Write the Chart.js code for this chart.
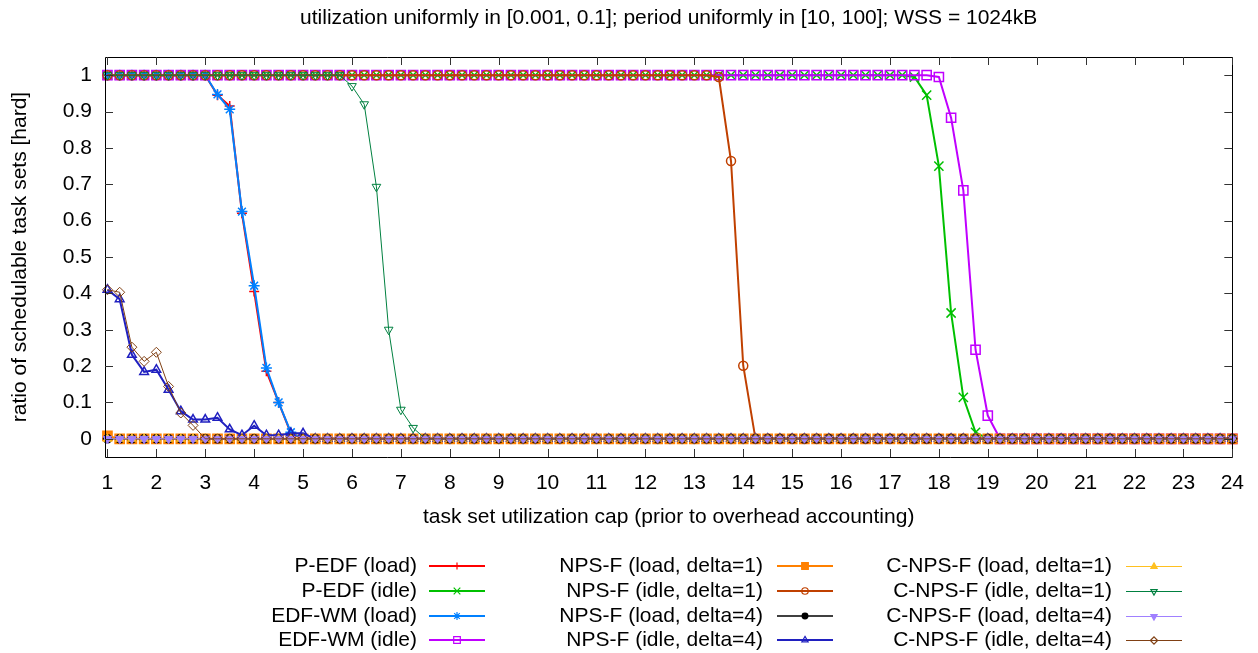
<!DOCTYPE html>
<html>
<head>
<meta charset="utf-8">
<script src="https://cdn.jsdelivr.net/npm/chart.js@4.4.1/dist/chart.umd.min.js"></script>
<style>
  html, body { margin: 0; padding: 0; background: #fff; }
  #chart { display: block; }
</style>
</head>
<body>
<canvas id="chart" width="1258" height="653"></canvas>
<script>
// task set utilization cap, step 0.25
const utilCap = [
  1, 1.25, 1.5, 1.75, 2, 2.25, 2.5, 2.75, 3, 3.25, 3.5, 3.75, 4, 4.25, 4.5, 4.75,
  5, 5.25, 5.5, 5.75, 6, 6.25, 6.5, 6.75, 7, 7.25, 7.5, 7.75, 8, 8.25, 8.5, 8.75,
  9, 9.25, 9.5, 9.75, 10, 10.25, 10.5, 10.75, 11, 11.25, 11.5, 11.75, 12, 12.25, 12.5, 12.75,
  13, 13.25, 13.5, 13.75, 14, 14.25, 14.5, 14.75, 15, 15.25, 15.5, 15.75, 16, 16.25, 16.5, 16.75,
  17, 17.25, 17.5, 17.75, 18, 18.25, 18.5, 18.75, 19, 19.25, 19.5, 19.75, 20, 20.25, 20.5, 20.75,
  21, 21.25, 21.5, 21.75, 22, 22.25, 22.5, 22.75, 23, 23.25, 23.5, 23.75, 24
];

const pEdfLoad = [
  1, 1, 1, 1, 1, 1, 1, 1, 1, 0.945, 0.915, 0.62, 0.405, 0.186, 0.1, 0.015,
  0, 0, 0, 0, 0, 0, 0, 0, 0, 0, 0, 0, 0, 0, 0, 0,
  0, 0, 0, 0, 0, 0, 0, 0, 0, 0, 0, 0, 0, 0, 0, 0,
  0, 0, 0, 0, 0, 0, 0, 0, 0, 0, 0, 0, 0, 0, 0, 0,
  0, 0, 0, 0, 0, 0, 0, 0, 0, 0, 0, 0, 0, 0, 0, 0,
  0, 0, 0, 0, 0, 0, 0, 0, 0, 0, 0, 0, 0
];
const pEdfIdle = [
  1, 1, 1, 1, 1, 1, 1, 1, 1, 1, 1, 1, 1, 1, 1, 1,
  1, 1, 1, 1, 1, 1, 1, 1, 1, 1, 1, 1, 1, 1, 1, 1,
  1, 1, 1, 1, 1, 1, 1, 1, 1, 1, 1, 1, 1, 1, 1, 1,
  1, 1, 1, 1, 1, 1, 1, 1, 1, 1, 1, 1, 1, 1, 1, 1,
  1, 1, 0.995, 0.945, 0.75, 0.346, 0.114, 0.018, 0, 0, 0, 0, 0, 0, 0, 0,
  0, 0, 0, 0, 0, 0, 0, 0, 0, 0, 0, 0, 0
];
const edfWmLoad = [
  1, 1, 1, 1, 1, 1, 1, 1, 1, 0.947, 0.906, 0.625, 0.421, 0.195, 0.1, 0.018,
  0, 0, 0, 0, 0, 0, 0, 0, 0, 0, 0, 0, 0, 0, 0, 0,
  0, 0, 0, 0, 0, 0, 0, 0, 0, 0, 0, 0, 0, 0, 0, 0,
  0, 0, 0, 0, 0, 0, 0, 0, 0, 0, 0, 0, 0, 0, 0, 0,
  0, 0, 0, 0, 0, 0, 0, 0, 0, 0, 0, 0, 0, 0, 0, 0,
  0, 0, 0, 0, 0, 0, 0, 0, 0, 0, 0, 0, 0
];
const edfWmIdle = [
  1, 1, 1, 1, 1, 1, 1, 1, 1, 1, 1, 1, 1, 1, 1, 1,
  1, 1, 1, 1, 1, 1, 1, 1, 1, 1, 1, 1, 1, 1, 1, 1,
  1, 1, 1, 1, 1, 1, 1, 1, 1, 1, 1, 1, 1, 1, 1, 1,
  1, 1, 1, 1, 1, 1, 1, 1, 1, 1, 1, 1, 1, 1, 1, 1,
  1, 1, 1, 1, 0.995, 0.883, 0.683, 0.245, 0.064, 0, 0, 0, 0, 0, 0, 0,
  0, 0, 0, 0, 0, 0, 0, 0, 0, 0, 0, 0, 0
];
const npsfLoad1 = [
  0.008, 0, 0, 0, 0, 0, 0, 0, 0, 0, 0, 0, 0, 0, 0, 0,
  0, 0, 0, 0, 0, 0, 0, 0, 0, 0, 0, 0, 0, 0, 0, 0,
  0, 0, 0, 0, 0, 0, 0, 0, 0, 0, 0, 0, 0, 0, 0, 0,
  0, 0, 0, 0, 0, 0, 0, 0, 0, 0, 0, 0, 0, 0, 0, 0,
  0, 0, 0, 0, 0, 0, 0, 0, 0, 0, 0, 0, 0, 0, 0, 0,
  0, 0, 0, 0, 0, 0, 0, 0, 0, 0, 0, 0, 0
];
const npsfIdle1 = [
  1, 1, 1, 1, 1, 1, 1, 1, 1, 1, 1, 1, 1, 1, 1, 1,
  1, 1, 1, 1, 1, 1, 1, 1, 1, 1, 1, 1, 1, 1, 1, 1,
  1, 1, 1, 1, 1, 1, 1, 1, 1, 1, 1, 1, 1, 1, 1, 1,
  1, 1, 0.995, 0.764, 0.201, 0, 0, 0, 0, 0, 0, 0, 0, 0, 0, 0,
  0, 0, 0, 0, 0, 0, 0, 0, 0, 0, 0, 0, 0, 0, 0, 0,
  0, 0, 0, 0, 0, 0, 0, 0, 0, 0, 0, 0, 0
];
const npsfLoad4 = [
  0, 0, 0, 0, 0, 0, 0, 0, 0, 0, 0, 0, 0, 0, 0, 0,
  0, 0, 0, 0, 0, 0, 0, 0, 0, 0, 0, 0, 0, 0, 0, 0,
  0, 0, 0, 0, 0, 0, 0, 0, 0, 0, 0, 0, 0, 0, 0, 0,
  0, 0, 0, 0, 0, 0, 0, 0, 0, 0, 0, 0, 0, 0, 0, 0,
  0, 0, 0, 0, 0, 0, 0, 0, 0, 0, 0, 0, 0, 0, 0, 0,
  0, 0, 0, 0, 0, 0, 0, 0, 0, 0, 0, 0, 0
];
const npsfIdle4 = [
  0.41, 0.384, 0.231, 0.184, 0.19, 0.135, 0.076, 0.053, 0.053, 0.058, 0.026, 0.01, 0.036, 0.01, 0.01, 0.015,
  0.015, 0, 0, 0, 0, 0, 0, 0, 0, 0, 0, 0, 0, 0, 0, 0,
  0, 0, 0, 0, 0, 0, 0, 0, 0, 0, 0, 0, 0, 0, 0, 0,
  0, 0, 0, 0, 0, 0, 0, 0, 0, 0, 0, 0, 0, 0, 0, 0,
  0, 0, 0, 0, 0, 0, 0, 0, 0, 0, 0, 0, 0, 0, 0, 0,
  0, 0, 0, 0, 0, 0, 0, 0, 0, 0, 0, 0, 0
];
const cnpsfLoad1 = [
  0, 0, 0, 0, 0, 0, 0, 0, 0, 0, 0, 0, 0, 0, 0, 0,
  0, 0, 0, 0, 0, 0, 0, 0, 0, 0, 0, 0, 0, 0, 0, 0,
  0, 0, 0, 0, 0, 0, 0, 0, 0, 0, 0, 0, 0, 0, 0, 0,
  0, 0, 0, 0, 0, 0, 0, 0, 0, 0, 0, 0, 0, 0, 0, 0,
  0, 0, 0, 0, 0, 0, 0, 0, 0, 0, 0, 0, 0, 0, 0, 0,
  0, 0, 0, 0, 0, 0, 0, 0, 0, 0, 0, 0, 0
];
const cnpsfIdle1 = [
  1, 1, 1, 1, 1, 1, 1, 1, 1, 1, 1, 1, 1, 1, 1, 1,
  1, 1, 1, 1, 0.97, 0.92, 0.693, 0.3, 0.08, 0.03, 0, 0, 0, 0, 0, 0,
  0, 0, 0, 0, 0, 0, 0, 0, 0, 0, 0, 0, 0, 0, 0, 0,
  0, 0, 0, 0, 0, 0, 0, 0, 0, 0, 0, 0, 0, 0, 0, 0,
  0, 0, 0, 0, 0, 0, 0, 0, 0, 0, 0, 0, 0, 0, 0, 0,
  0, 0, 0, 0, 0, 0, 0, 0, 0, 0, 0, 0, 0
];
const cnpsfLoad4 = [
  0, 0, 0, 0, 0, 0, 0, 0, 0, 0, 0, 0, 0, 0, 0, 0,
  0, 0, 0, 0, 0, 0, 0, 0, 0, 0, 0, 0, 0, 0, 0, 0,
  0, 0, 0, 0, 0, 0, 0, 0, 0, 0, 0, 0, 0, 0, 0, 0,
  0, 0, 0, 0, 0, 0, 0, 0, 0, 0, 0, 0, 0, 0, 0, 0,
  0, 0, 0, 0, 0, 0, 0, 0, 0, 0, 0, 0, 0, 0, 0, 0,
  0, 0, 0, 0, 0, 0, 0, 0, 0, 0, 0, 0, 0
];
const cnpsfIdle4 = [
  0.41, 0.403, 0.252, 0.213, 0.238, 0.144, 0.071, 0.037, 0, 0, 0, 0, 0, 0, 0, 0,
  0, 0, 0, 0, 0, 0, 0, 0, 0, 0, 0, 0, 0, 0, 0, 0,
  0, 0, 0, 0, 0, 0, 0, 0, 0, 0, 0, 0, 0, 0, 0, 0,
  0, 0, 0, 0, 0, 0, 0, 0, 0, 0, 0, 0, 0, 0, 0, 0,
  0, 0, 0, 0, 0, 0, 0, 0, 0, 0, 0, 0, 0, 0, 0, 0,
  0, 0, 0, 0, 0, 0, 0, 0, 0, 0, 0, 0, 0
];

const seriesNames = [
  'P-EDF (load)', 'P-EDF (idle)', 'EDF-WM (load)', 'EDF-WM (idle)',
  'NPS-F (load, delta=1)', 'NPS-F (idle, delta=1)', 'NPS-F (load, delta=4)', 'NPS-F (idle, delta=4)',
  'C-NPS-F (load, delta=1)', 'C-NPS-F (idle, delta=1)', 'C-NPS-F (load, delta=4)', 'C-NPS-F (idle, delta=4)'
];
const seriesValues = [
  pEdfLoad, pEdfIdle, edfWmLoad, edfWmIdle,
  npsfLoad1, npsfIdle1, npsfLoad4, npsfIdle4,
  cnpsfLoad1, cnpsfIdle1, cnpsfLoad4, cnpsfIdle4
];
const xTicks = [1, 2, 3, 4, 5, 6, 7, 8, 9, 10, 11, 12, 13, 14, 15, 16, 17, 18, 19, 20, 21, 22, 23, 24];
const yTicks = [0, 0.1, 0.2, 0.3, 0.4, 0.5, 0.6, 0.7, 0.8, 0.9, 1];

const titleText = 'utilization uniformly in [0.001, 0.1]; period uniformly in [10, 100]; WSS = 1024kB';
const xTitle = 'task set utilization cap (prior to overhead accounting)';
const yTitle = 'ratio of schedulable task sets [hard]';

// look of each series (gnuplot-ish)
const colors = ['#ff0000', '#00c000', '#0080ff', '#c000ff', '#ff8000', '#c04000', '#000000', '#2020c0',
                '#ffc020', '#008040', '#a080ff', '#804014'];
const markers = ['cross', 'crossRot', 'star', 'rect', 'rect', 'circle', 'circle', 'triangle',
                 'triangle', 'triangle', 'triangle', 'rectRot'];
const rotations = [0, 0, 0, 0, 0, 0, 0, 0, 0, 180, 180, 0];
const filled = [false, false, false, false, true, false, true, false, true, false, true, false];
const radii = [5, 6.5, 5.5, 6.5, 6.5, 4.5, 4, 5, 5, 5, 5, 5];
const widths = [2, 2, 2, 2, 2, 2, 1.5, 2, 1, 1, 1, 1];

const FONT = '"Liberation Sans", Arial, sans-serif';

const datasets = seriesNames.map(function(name, i) {
  return {
    label: name,
    data: seriesValues[i].map(function(v, j) { return { x: utilCap[j], y: v }; }),
    borderColor: colors[i],
    backgroundColor: colors[i],
    borderWidth: widths[i],
    pointStyle: markers[i],
    pointRotation: rotations[i],
    pointRadius: radii[i],
    pointHoverRadius: radii[i],
    pointBorderWidth: widths[i] > 1 ? 1.5 : 1,
    pointBorderColor: colors[i],
    pointBackgroundColor: filled[i] ? colors[i] : 'rgba(0,0,0,0)',
    tension: 0,
    clip: 12,
    order: seriesNames.length - i
  };
});

// frame with inward ticks, titles and the legend, drawn like gnuplot
const gnuplotDecor = {
  id: 'gnuplotDecor',
  afterDraw(chart) {
    const ctx = chart.ctx;
    const a = chart.chartArea;
    const xs = chart.scales.x, ys = chart.scales.y;
    ctx.save();
    ctx.strokeStyle = '#000';
    ctx.lineWidth = 1;
    ctx.beginPath();
    ctx.rect(Math.round(a.left) + 0.5, Math.round(a.top) + 0.5, Math.round(a.right - a.left), Math.round(a.bottom - a.top));
    ctx.stroke();
    ctx.strokeStyle = '#333';
    ctx.beginPath();
    xTicks.forEach(function(v) {
      const px = Math.round(xs.getPixelForValue(v)) + 0.5;
      ctx.moveTo(px, a.bottom); ctx.lineTo(px, a.bottom - 8);
      ctx.moveTo(px, a.top); ctx.lineTo(px, a.top + 8);
    });
    yTicks.forEach(function(v) {
      const py = Math.round(ys.getPixelForValue(v)) + 0.5;
      ctx.moveTo(a.left, py); ctx.lineTo(a.left + 8, py);
      ctx.moveTo(a.right, py); ctx.lineTo(a.right - 8, py);
    });
    ctx.stroke();

    ctx.fillStyle = '#000';
    ctx.font = '21px ' + FONT;
    ctx.textAlign = 'center';
    ctx.textBaseline = 'middle';
    const cx = (a.left + a.right) / 2;
    ctx.fillText(titleText, cx, 18);
    ctx.fillText(xTitle, cx, 517);
    ctx.save();
    ctx.translate(20, (a.top + a.bottom) / 2);
    ctx.rotate(-Math.PI / 2);
    ctx.fillText(yTitle, 0, 0);
    ctx.restore();

    // legend: 3 columns x 4 rows, text right-aligned before the sample
    const textRight = [417, 763, 1112];
    const lineStart = [429, 777, 1126];
    const rowY = [566, 591, 616, 640];
    chart.data.datasets.forEach(function(ds, i) {
      const col = Math.floor(i / 4), row = i % 4;
      const y = rowY[row];
      const ly = ds.borderWidth % 2 === 1 ? y + 0.5 : y;
      ctx.fillStyle = '#000';
      ctx.textAlign = 'right';
      ctx.fillText(ds.label, textRight[col], y);
      ctx.strokeStyle = ds.borderColor;
      ctx.lineWidth = ds.borderWidth;
      ctx.beginPath();
      ctx.moveTo(lineStart[col], ly);
      ctx.lineTo(lineStart[col] + 56, ly);
      ctx.stroke();
      ctx.fillStyle = ds.pointBackgroundColor;
      ctx.lineWidth = 1.2;
      Chart.helpers.drawPoint(ctx, {
        pointStyle: ds.pointStyle,
        rotation: ds.pointRotation,
        radius: ds.pointRadius * 0.72,
        borderWidth: 1.2
      }, lineStart[col] + 28, ly);
    });
    ctx.restore();
  }
};

new Chart(document.getElementById('chart'), {
  type: 'line',
  data: { datasets: datasets },
  options: {
    responsive: false,
    animation: false,
    devicePixelRatio: 1,
    layout: { padding: { left: 0, top: 57, right: 23, bottom: 0 } },
    plugins: {
      legend: { display: false },
      title: { display: false },
      tooltip: { enabled: false }
    },
    scales: {
      x: {
        type: 'linear',
        min: 0.95,
        max: 24,
        afterBuildTicks: function(s) { s.ticks = xTicks.map(function(v) { return { value: v }; }); },
        afterFit: function(s) { s.height = 196; },
        grid: { display: false, drawTicks: false },
        border: { display: false },
        ticks: {
          autoSkip: false, maxRotation: 0, padding: 14, color: '#000',
          font: { family: FONT, size: 21 },
          callback: function(v) { return String(v); }
        }
      },
      y: {
        min: -0.05,
        max: 1.05,
        afterBuildTicks: function(s) { s.ticks = yTicks.map(function(v) { return { value: v }; }); },
        afterFit: function(s) { s.width = 105; },
        grid: { display: false, drawTicks: false },
        border: { display: false },
        ticks: {
          padding: 13, color: '#000',
          font: { family: FONT, size: 21 },
          callback: function(v) { return String(Math.round(v * 10) / 10); }
        }
      }
    }
  },
  plugins: [gnuplotDecor]
});
</script>
</body>
</html>
